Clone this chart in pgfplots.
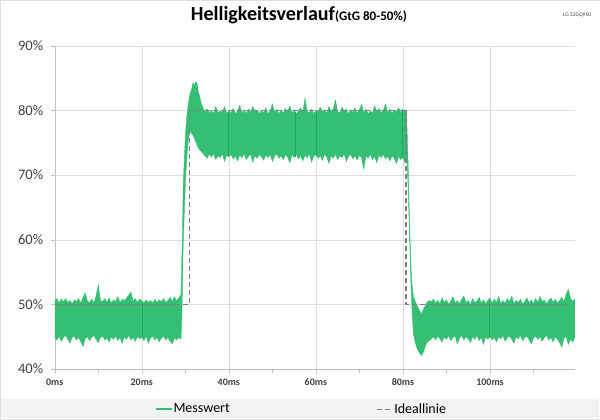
\documentclass[border=0pt]{standalone}
\usepackage{fontspec}
\setmainfont{Carlito}
\usepackage{pgfplots}
\pgfplotsset{compat=1.18}
\usepgfplotslibrary{fillbetween}
\definecolor{mess}{RGB}{53,191,114}
\definecolor{messdark}{RGB}{30,168,88}
\definecolor{ideal}{RGB}{128,128,128}
\definecolor{gridc}{RGB}{222,222,222}
\definecolor{axc}{RGB}{191,191,191}
\definecolor{txt}{RGB}{64,64,64}
\definecolor{band}{RGB}{242,242,242}
\begin{document}
\begin{tikzpicture}
\fill[band] (1pt,2pt) rectangle (599pt,21pt);
\draw[gridc] (0.5pt,0.5pt) rectangle (599.5pt,419.5pt);
\node[anchor=base, inner sep=0pt] at (299pt,399pt) {\fontsize{20}{22}\selectfont\bfseries Helligkeitsverlauf\fontsize{13}{15}\selectfont(GtG 80-50\%)};
\node[anchor=base east, inner sep=0pt, text=txt] at (591pt,403pt) {\fontsize{5.5}{6}\selectfont LG 32GQ950};
\begin{axis}[
  at={(55pt,51pt)}, anchor=south west,
  scale only axis, width=520pt, height=323pt,
  xmin=0, xmax=119.6, ymin=40, ymax=90,
  axis lines*=left,
  axis line style={axc, -},
  xtick={0,20,40,60,80,100},
  xticklabels={0ms,20ms,40ms,60ms,80ms,100ms},
  minor xtick={10,30,50,70,90,110},
  ytick={40,50,60,70,80,90},
  yticklabels={40\%,50\%,60\%,70\%,80\%,90\%},
  /pgf/number format/assume math mode=true,
  tick align=outside,
  major tick length=4pt, minor tick length=4pt,
  tick style={axc},
  xmajorgrids, ymajorgrids,
  major grid style={gridc},
  xticklabel style={font=\fontsize{10}{12}\selectfont\bfseries, text=txt, yshift=-2pt},
  yticklabel style={font=\fontsize{14.5}{16}\selectfont, text=txt, xshift=-4pt},
  legend columns=2,
  legend style={at={(0.473,-0.124)}, anchor=center, draw=none, fill=none,
     font=\fontsize{14}{16}\selectfont, text=black,
     /tikz/every even column/.append style={column sep=145pt},
     nodes={inner sep=1pt}},
  legend image code/.code={\draw[#1] (0pt,0pt) -- (16pt,0pt);},
  clip=false,
]
\addlegendimage{mess, line width=1.6pt}
\addlegendentry{Messwert}
\addplot[name path=U, mess, line width=0.4pt, forget plot] coordinates {
(0,50.6)(0.5,50.9)(1,50.2)(1.5,50.8)(2,50.4)(2.5,50.9)(3,50.3)(3.5,50.6)(4,50.1)(4.5,50.7)
(5,50.4)(5.5,50.9)(6,50.2)(6.5,51.1)(7,51.8)(7.5,50.5)(8,50.3)(8.5,50.8)(9,50.2)(9.5,51.3)
(10,53.0)(10.5,50.6)(11,50.4)(11.5,50.9)(12,50.3)(12.5,51.0)(13,50.2)(13.5,50.7)(14,50.4)(14.5,51.2)
(15,50.3)(15.5,50.8)(16,50.6)(16.5,51.0)(17,51.4)(17.5,51.9)(18,50.5)(18.5,50.9)(19,50.3)(19.5,50.8)
(20,50.6)(20.5,50.2)(21,50.7)(21.5,50.3)(22,50.6)(22.5,50.2)(23,50.8)(23.5,50.3)(24,50.7)(24.5,50.4)
(25,50.9)(25.5,50.3)(26,50.6)(26.5,51.1)(27,50.4)(27.5,51.2)(28,50.5)(28.5,51.0)
(29.0,51.5)(29.2,57)(29.35,61)(29.5,68)(29.8,73)(30.1,77)(30.4,79.5)(30.7,81)(31.0,82.3)(31.4,83.2)
(31.8,84.3)(32.1,83.9)(32.4,84.4)(32.7,84.2)(33.0,82.8)(33.3,82.2)(33.6,81.2)(34.0,80.5)
(34.5,79.8)(35,80.2)(35.5,79.6)(36,80.0)(36.5,79.5)(37,80.6)(37.5,79.6)(38,79.9)(38.5,79.7)(39,80.6)
(39.5,79.5)(40,80.0)(40.5,79.6)(41,80.3)(41.5,79.5)(42,79.9)(42.5,80.8)(43,79.6)(43.5,80.1)(44,79.5)
(44.5,80.2)(45,79.7)(45.5,80.6)(46,79.8)(46.5,80.1)(47,79.5)(47.5,80.0)(48,79.6)(48.5,80.4)(49,79.5)
(49.5,79.9)(50,81.0)(50.5,79.7)(51,80.2)(51.5,79.5)(52,80.0)(52.5,79.6)(53,80.3)(53.5,79.8)(54,80.7)
(54.5,79.6)(55,80.1)(55.5,79.5)(56,79.9)(56.5,80.4)(57,79.7)(57.5,81.9)(58,79.9)(58.5,79.6)(59,80.2)
(59.5,79.5)(60,80.0)(60.5,79.7)(61,80.5)(61.5,79.8)(62,80.1)(62.5,79.5)(63,80.6)(63.5,79.9)(64,80.2)
(64.5,81.6)(65,79.8)(65.5,79.6)(66,80.5)(66.5,79.9)(67,80.2)(67.5,79.5)(68,80.0)(68.5,79.7)(69,80.4)
(69.5,79.6)(70,80.1)(70.5,80.9)(71,79.7)(71.5,80.2)(72,79.5)(72.5,79.9)(73,79.6)(73.5,80.7)(74,79.8)
(74.5,80.3)(75,79.6)(75.5,80.0)(76,81.0)(76.5,79.7)(77,80.2)(77.5,79.5)(78,80.1)(78.5,79.8)(79,80.4)
(79.5,79.6)(80,80.2)(80.5,79.9)(80.8,80.1)
(81.0,76)(81.2,71.5)(81.5,63)(81.8,57)(82.0,53.7)(82.4,51.2)(82.8,50.5)(83.2,49.9)(83.6,49.3)(84.0,48.8)
(84.3,48.6)(84.7,49.2)(85.1,49.8)(85.5,50.3)(86.0,50.6)
(86.5,50.4)(87,50.8)(87.5,50.2)(88,50.6)(88.5,50.1)(89,51.0)(89.5,50.3)(90,50.7)(90.5,50.0)(91,50.5)
(91.5,51.2)(92,50.2)(92.5,50.6)(93,50.1)(93.5,50.8)(94,51.3)(94.5,50.3)(95,50.6)(95.5,50.0)(96,50.9)
(96.5,50.3)(97,50.5)(97.5,51.1)(98,50.2)(98.5,50.7)(99,50.1)(99.5,50.6)(100,51.0)(100.5,50.2)(101,50.8)
(101.5,50.3)(102,51.2)(102.5,50.1)(103,50.6)(103.5,50.2)(104,50.9)(104.5,50.4)(105,51.3)(105.5,50.1)(106,50.6)
(106.5,50.3)(107,50.8)(107.5,50.0)(108,50.5)(108.5,51.0)(109,50.2)(109.5,50.7)(110,50.1)(110.5,50.9)(111,50.3)
(111.5,51.2)(112,50.4)(112.5,50.7)(113,50.1)(113.5,50.6)(114,51.0)(114.5,50.3)(115,50.8)(115.5,50.2)(116,50.6)
(116.5,51.1)(117,50.4)(117.5,51.6)(118,52.3)(118.5,51.0)(119,50.5)(119.5,50.8)
};
\addplot[name path=L, mess, line width=0.4pt, forget plot] coordinates {
(0,44.9)(0.5,44.5)(1,45.1)(1.5,44.3)(2,44.9)(2.5,45.2)(3,44.6)(3.5,44.0)(4,44.9)(4.5,45.1)
(5,44.5)(5.5,44.9)(6,44.2)(6.5,43.5)(7,44.7)(7.5,45.0)(8,44.4)(8.5,44.9)(9,45.2)(9.5,44.6)
(10,44.1)(10.5,44.9)(11,45.1)(11.5,44.5)(12,44.8)(12.5,44.2)(13,45.0)(13.5,44.6)(14,45.1)(14.5,44.4)
(15,44.9)(15.5,44.0)(16,45.0)(16.5,44.6)(17,45.2)(17.5,44.5)(18,44.9)(18.5,44.3)(19,45.0)(19.5,44.7)
(20,44.9)(20.5,44.4)(21,45.1)(21.5,44.0)(22,44.8)(22.5,45.1)(23,44.5)(23.5,44.9)(24,44.2)(24.5,44.8)
(25,45.1)(25.5,44.5)(26,44.9)(26.5,44.3)(27,43.9)(27.5,44.8)(28,44.5)(28.5,44.9)
(29.0,44.6)(29.2,48)(29.35,53)(29.5,59)(29.8,65)(30.1,70)(30.4,73)(30.7,75.5)(31.0,76.8)(31.4,76.5)
(31.8,76.1)(32.2,75.5)(32.6,74.8)(33.0,74.2)(33.4,73.8)(34.0,73.4)
(34.5,73.0)(35,72.6)(35.5,73.2)(36,72.8)(36.5,73.3)(37,72.4)(37.5,73.0)(38,72.7)(38.5,73.3)(39,72.1)
(39.5,73.1)(40,72.8)(40.5,73.2)(41,72.5)(41.5,73.0)(42,72.2)(42.5,73.1)(43,72.7)(43.5,73.3)(44,72.4)
(44.5,72.9)(45,73.2)(45.5,72.0)(46,73.0)(46.5,72.6)(47,73.2)(47.5,72.8)(48,72.3)(48.5,73.1)(49,72.7)
(49.5,73.2)(50,72.1)(50.5,72.9)(51,73.3)(51.5,72.6)(52,73.0)(52.5,72.4)(53,73.2)(53.5,72.8)(54,71.9)
(54.5,73.1)(55,72.7)(55.5,73.2)(56,72.5)(56.5,73.0)(57,72.2)(57.5,73.1)(58,72.7)(58.5,73.3)(59,72.0)
(59.5,72.9)(60,73.2)(60.5,72.6)(61,73.0)(61.5,72.3)(62,73.2)(62.5,72.8)(63,71.8)(63.5,73.0)(64,72.6)
(64.5,73.2)(65,72.4)(65.5,73.0)(66,72.7)(66.5,73.3)(67,72.1)(67.5,72.9)(68,73.2)(68.5,72.5)(69,73.0)
(69.5,72.3)(70,73.1)(70.5,72.7)(71,70.9)(71.5,73.0)(72,72.6)(72.5,73.2)(73,72.4)(73.5,72.9)(74,71.9)
(74.5,73.1)(75,72.7)(75.5,73.2)(76,72.5)(76.5,72.9)(77,72.2)(77.5,73.0)(78,72.6)(78.5,71.8)(79,72.9)
(79.5,72.4)(80,72.7)(80.5,71.9)(80.8,72.5)
(81.0,71.5)(81.2,68)(81.5,61)(81.8,54)(82.1,49)(82.4,45.5)(82.8,44.2)(83.2,43.3)(83.7,42.6)(84.3,42.1)
(84.8,42.8)(85.4,44.0)(86.0,44.4)
(86.5,44.6)(87,45.0)(87.5,44.5)(88,45.1)(88.5,44.7)(89,44.2)(89.5,45.0)(90,44.6)(90.5,45.2)(91,44.4)
(91.5,44.9)(92,45.1)(92.5,43.9)(93,44.8)(93.5,45.2)(94,44.5)(94.5,45.0)(95,44.7)(95.5,44.1)(96,45.0)
(96.5,44.6)(97,45.2)(97.5,44.4)(98,44.9)(98.5,43.8)(99,45.0)(99.5,44.6)(100,45.1)(100.5,44.5)(101,44.9)
(101.5,44.2)(102,45.0)(102.5,44.7)(103,45.2)(103.5,44.3)(104,44.9)(104.5,45.1)(105,44.6)(105.5,44.0)(106,45.0)
(106.5,44.7)(107,45.2)(107.5,44.4)(108,44.9)(108.5,45.1)(109,44.5)(109.5,43.9)(110,44.8)(110.5,45.1)(111,44.6)
(111.5,45.0)(112,44.3)(112.5,44.9)(113,45.2)(113.5,44.5)(114,44.9)(114.5,44.2)(115,45.0)(115.5,44.6)(116,44.1)
(116.5,43.4)(117,44.8)(117.5,45.0)(118,43.8)(118.5,44.6)(119,44.2)(119.5,44.9)
};
\addplot[fill=mess, draw=none, forget plot] fill between[of=U and L];
\addplot[messdark, line width=0.8pt, forget plot] coordinates {(20.1,45.0)(20.1,50.2)};
\addplot[messdark, line width=0.8pt, forget plot] coordinates {(40.0,73.0)(40.0,79.8)};
\addplot[messdark, line width=0.8pt, forget plot] coordinates {(55.2,72.8)(55.2,79.8)};
\addplot[messdark, line width=0.8pt, forget plot] coordinates {(60.1,72.9)(60.1,79.8)};
\addplot[messdark, line width=0.8pt, forget plot] coordinates {(79.9,72.8)(79.9,80.0)};
\addplot[messdark, line width=0.8pt, forget plot] coordinates {(99.8,44.8)(99.8,50.2)};
\addplot[ideal, line width=1.3pt, dash pattern=on 5pt off 3pt] coordinates {
(0,50)(30.9,50)(30.9,80)(80.7,80)(80.7,50)(117.7,50)};
\addlegendentry{Ideallinie}
\end{axis}
\end{tikzpicture}
\end{document}
